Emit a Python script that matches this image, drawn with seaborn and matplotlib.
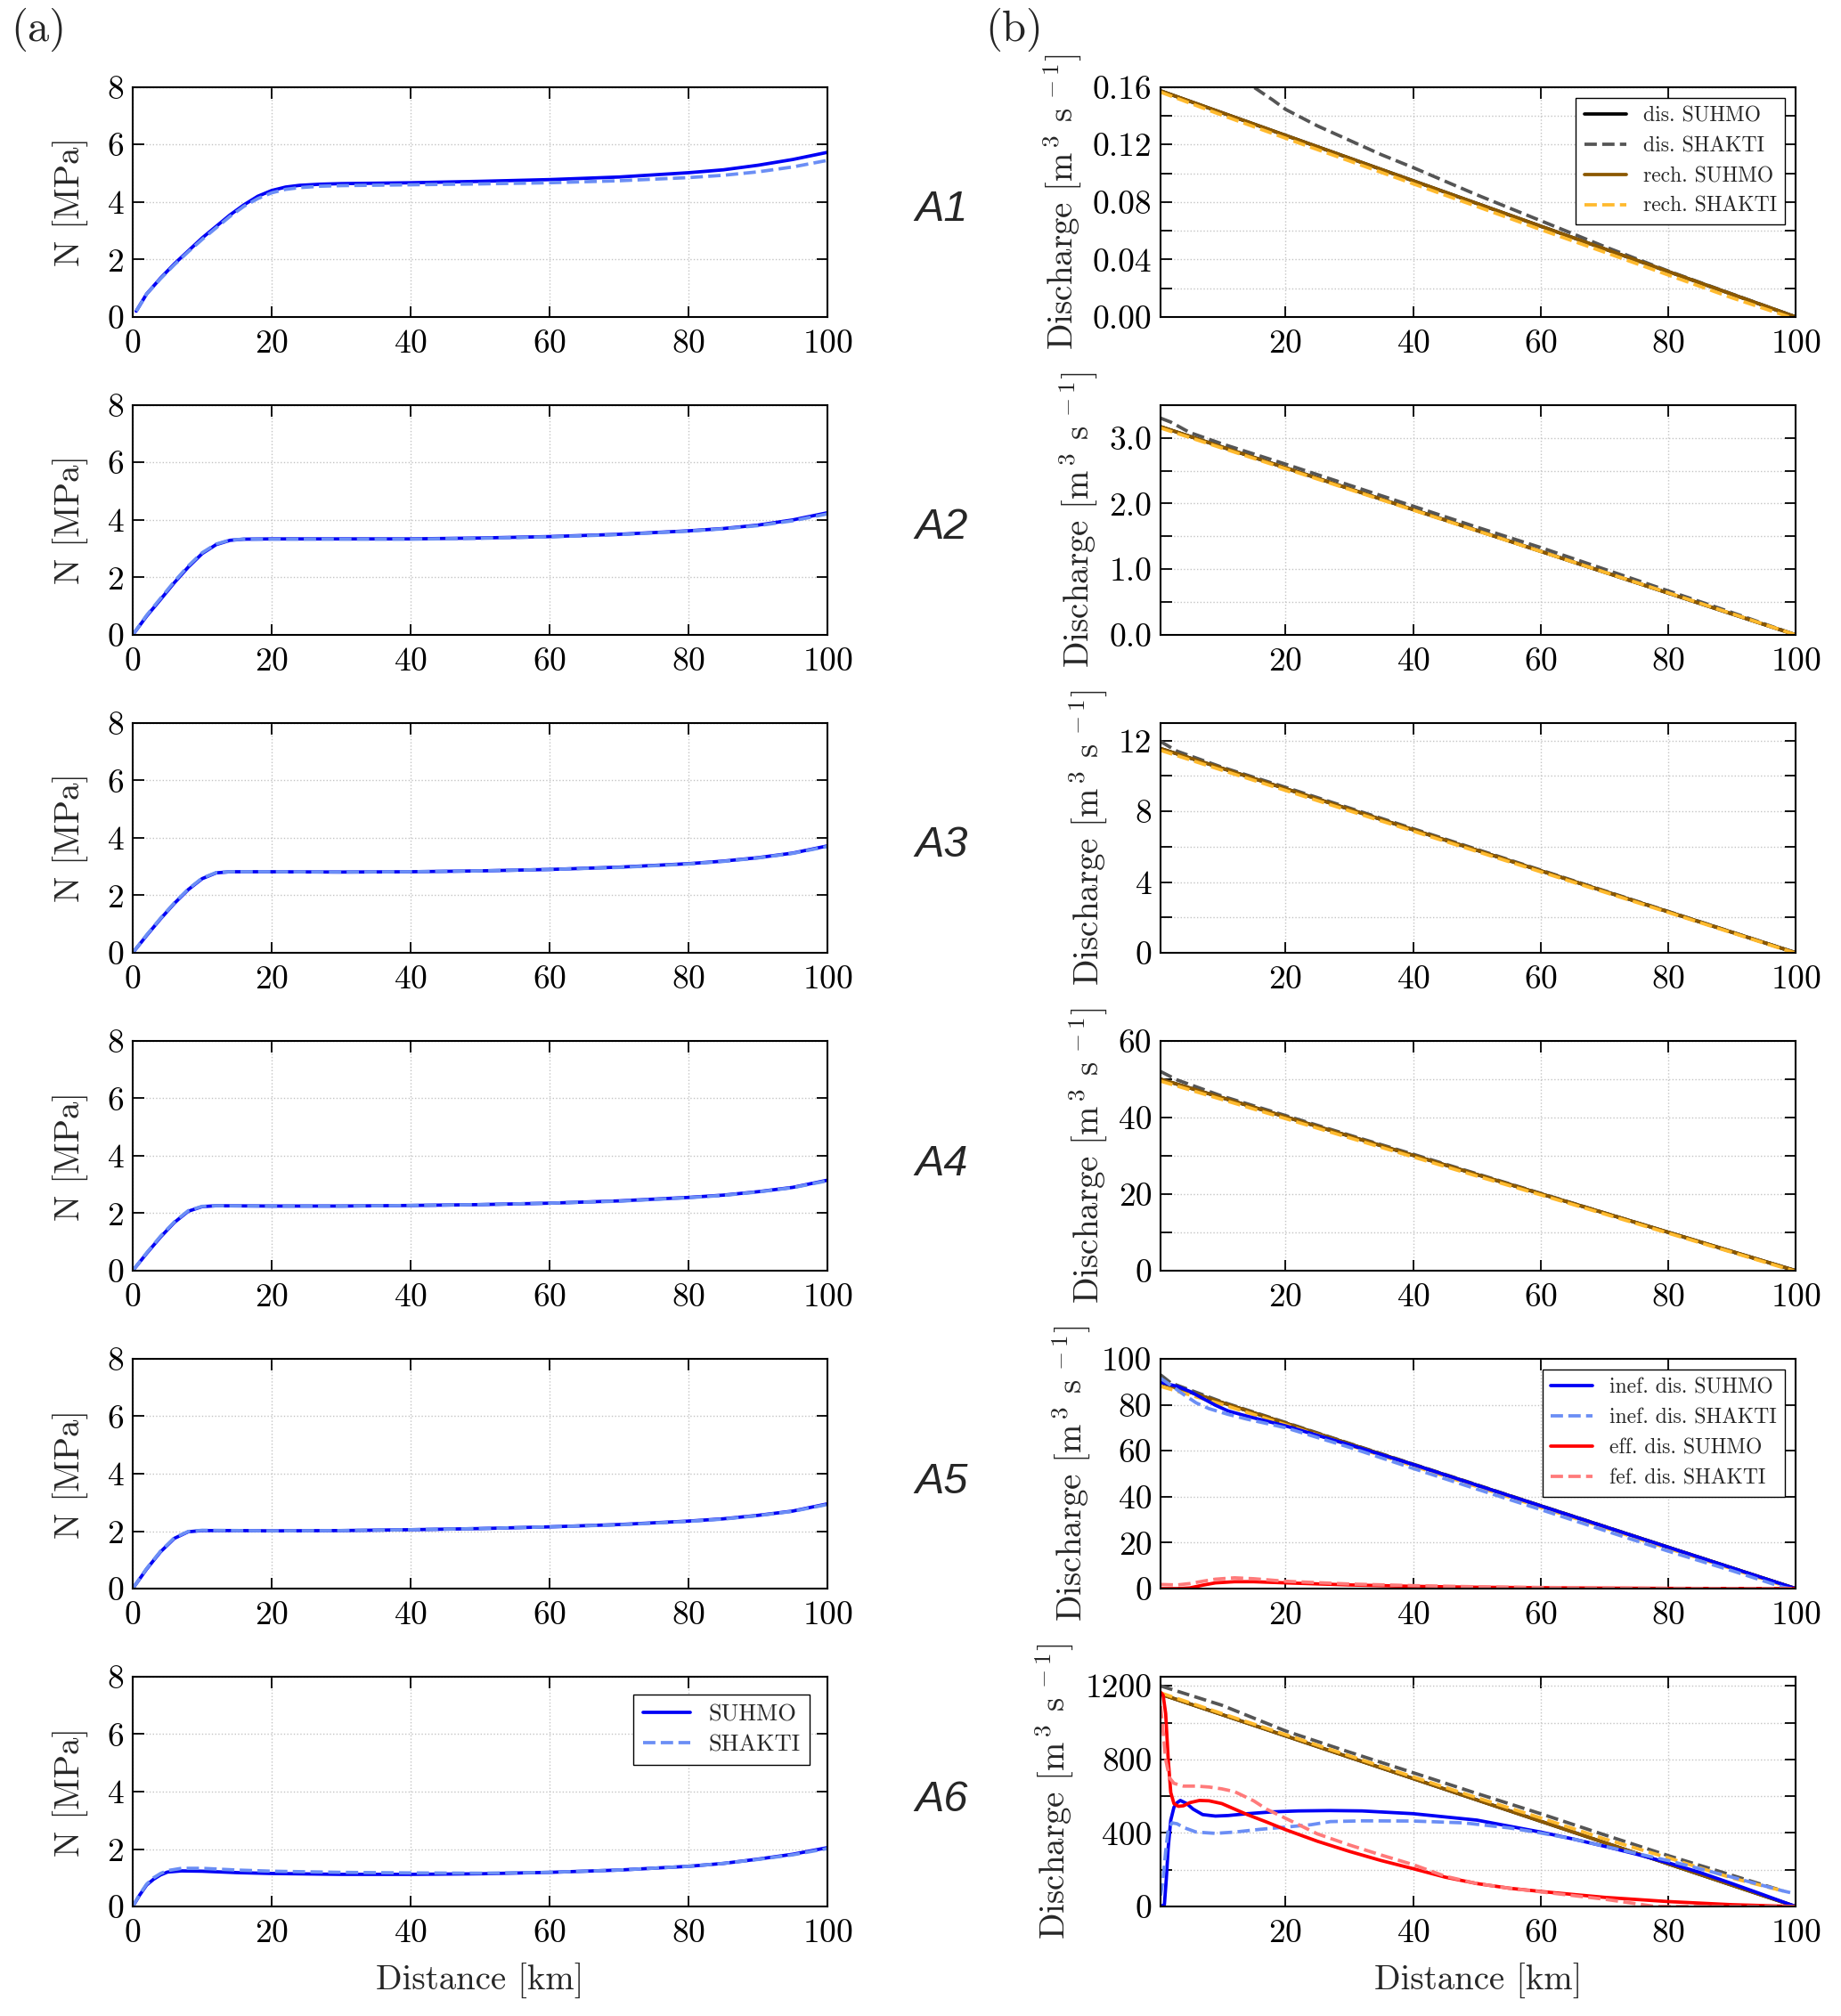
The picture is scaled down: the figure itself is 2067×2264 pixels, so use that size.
import numpy as np
import matplotlib
matplotlib.use("Agg")
import matplotlib.pyplot as plt
import seaborn as sns

# ---------------- (a) effective pressure N [MPa] ----------------
a1_x = [0.5, 2, 4, 6, 8, 10, 12, 14, 16, 18, 20, 22, 24, 27, 30, 40, 50, 60, 70, 80, 85, 90, 95, 100]
a1_suhmo = [0.2, 0.8, 1.35, 1.85, 2.3, 2.75, 3.15, 3.55, 3.9, 4.2, 4.4, 4.52, 4.58, 4.62, 4.64, 4.67, 4.72, 4.78, 4.87, 5.02, 5.12, 5.28, 5.48, 5.73]
a1_shakti = [0.2, 0.8, 1.33, 1.82, 2.27, 2.7, 3.1, 3.5, 3.85, 4.12, 4.32, 4.44, 4.5, 4.55, 4.57, 4.6, 4.63, 4.67, 4.74, 4.85, 4.93, 5.05, 5.22, 5.45]

a2_x = [0, 2, 4, 6, 8, 10, 12, 14, 16, 20, 30, 40, 50, 60, 70, 80, 85, 90, 95, 100]
a2_suhmo = [0.0, 0.65, 1.23, 1.82, 2.36, 2.83, 3.14, 3.29, 3.33, 3.34, 3.34, 3.34, 3.37, 3.42, 3.5, 3.62, 3.7, 3.82, 4.0, 4.25]
a2_shakti = [0.0, 0.68, 1.27, 1.86, 2.4, 2.86, 3.16, 3.3, 3.33, 3.33, 3.33, 3.33, 3.36, 3.41, 3.49, 3.61, 3.69, 3.8, 3.97, 4.21]

a3_x = [0, 2, 4, 6, 8, 10, 12, 14, 20, 30, 40, 50, 60, 70, 80, 85, 90, 95, 100]
a3_suhmo = [0.0, 0.6, 1.18, 1.72, 2.2, 2.58, 2.78, 2.82, 2.82, 2.81, 2.82, 2.85, 2.9, 2.98, 3.1, 3.19, 3.31, 3.47, 3.72]
a3_shakti = [0.0, 0.62, 1.2, 1.74, 2.22, 2.6, 2.79, 2.82, 2.82, 2.81, 2.82, 2.85, 2.9, 2.97, 3.09, 3.18, 3.3, 3.46, 3.7]

a4_x = [0, 2, 4, 6, 8, 10, 12, 20, 30, 40, 50, 60, 70, 80, 85, 90, 95, 100]
a4_suhmo = [0.0, 0.6, 1.17, 1.68, 2.07, 2.23, 2.26, 2.25, 2.25, 2.27, 2.3, 2.35, 2.43, 2.55, 2.63, 2.75, 2.9, 3.15]
a4_shakti = [0.0, 0.62, 1.2, 1.7, 2.09, 2.24, 2.26, 2.25, 2.25, 2.27, 2.3, 2.35, 2.42, 2.54, 2.62, 2.74, 2.89, 3.13]

a5_x = [0, 2, 4, 6, 8, 10, 15, 20, 30, 40, 50, 60, 70, 80, 85, 90, 95, 100]
a5_suhmo = [0.0, 0.68, 1.28, 1.75, 1.98, 2.02, 2.02, 2.01, 2.02, 2.05, 2.09, 2.15, 2.23, 2.35, 2.43, 2.55, 2.7, 2.95]
a5_shakti = [0.0, 0.7, 1.3, 1.77, 1.99, 2.03, 2.02, 2.01, 2.02, 2.05, 2.09, 2.15, 2.22, 2.34, 2.42, 2.54, 2.69, 2.93]

a6_x = [0, 1, 2, 3, 4, 5, 7, 10, 15, 20, 30, 40, 50, 60, 70, 80, 85, 90, 95, 100]
a6_suhmo = [0.0, 0.4, 0.75, 0.95, 1.1, 1.2, 1.24, 1.23, 1.18, 1.15, 1.12, 1.12, 1.14, 1.19, 1.27, 1.4, 1.5, 1.65, 1.82, 2.05]
a6_shakti = [0.0, 0.42, 0.78, 1.0, 1.15, 1.25, 1.33, 1.33, 1.27, 1.23, 1.19, 1.17, 1.16, 1.19, 1.27, 1.4, 1.5, 1.64, 1.8, 2.02]

# ---------------- (b) discharge [m3/s] ----------------
q_x = [0.4, 10, 20, 30, 40, 50, 60, 70, 80, 90, 100]

b1_suhmo = [0.1574, 0.1422, 0.1264, 0.1106, 0.0948, 0.0790, 0.0632, 0.0474, 0.0316, 0.0158, 0.0]
b1_rech_shakti = [0.1565, 0.1405, 0.1244, 0.1086, 0.0927, 0.0769, 0.0608, 0.0451, 0.0292, 0.0133, -0.0015]
b1_dis_shakti_x = [0.4, 5, 10, 15, 18, 20, 25, 30, 35, 40, 50, 60, 70, 80, 90, 100]
b1_dis_shakti = [0.23, 0.2, 0.178, 0.160, 0.151, 0.1445, 0.133, 0.123, 0.113, 0.104, 0.085, 0.067, 0.049, 0.032, 0.016, 0.0]

b2_suhmo = [3.17, 2.862, 2.544, 2.226, 1.908, 1.59, 1.272, 0.954, 0.636, 0.318, 0.0]
b2_rech_shakti = [3.15, 2.845, 2.53, 2.215, 1.9, 1.585, 1.27, 0.955, 0.64, 0.322, 0.0]
b2_dis_shakti_x = [0.4, 2, 5, 10, 20, 30, 40, 50, 60, 70, 80, 90, 100]
b2_dis_shakti = [3.30, 3.24, 3.08, 2.91, 2.60, 2.28, 1.96, 1.64, 1.33, 1.00, 0.67, 0.34, 0.0]

b3_suhmo = [11.55, 10.44, 9.28, 8.12, 6.96, 5.8, 4.64, 3.48, 2.32, 1.16, 0.0]
b3_rech_shakti = [11.45, 10.33, 9.18, 8.03, 6.88, 5.73, 4.58, 3.43, 2.28, 1.13, -0.03]
b3_dis_shakti_x = [0.4, 3, 10, 20, 30, 40, 50, 60, 70, 80, 90, 100]
b3_dis_shakti = [11.95, 11.4, 10.5, 9.36, 8.19, 7.02, 5.85, 4.68, 3.51, 2.34, 1.17, 0.0]

b4_suhmo = [50.0, 45.18, 40.16, 35.14, 30.12, 25.1, 20.08, 15.06, 10.04, 5.02, 0.0]
b4_rech_shakti = [49.5, 44.7, 39.7, 34.7, 29.7, 24.7, 19.8, 14.8, 9.8, 4.8, -0.2]
b4_dis_shakti_x = [0.4, 3, 10, 20, 30, 40, 50, 60, 70, 80, 90, 100]
b4_dis_shakti = [52.0, 49.8, 45.6, 40.5, 35.4, 30.4, 25.3, 20.2, 15.1, 10.0, 4.9, 0.0]

b5_suhmo = [89.64, 81.0, 72.0, 63.0, 54.0, 45.0, 36.0, 27.0, 18.0, 9.0, 0.0]
b5_rech_shakti = [88.0, 80.2, 71.3, 62.4, 53.4, 44.4, 35.4, 26.5, 17.5, 8.6, -0.4]
b5_dis_shakti_x = [0.4, 2, 10, 20, 30, 40, 50, 60, 70, 80, 90, 100]
b5_dis_shakti = [93.0, 89.5, 81.3, 72.3, 63.2, 54.2, 45.2, 36.1, 27.1, 18.0, 9.0, 0.0]
b5_inef_x = [0.4, 3, 5, 7, 9, 11, 14, 20, 30, 40, 50, 60, 70, 80, 90, 100]
b5_inef_suhmo = [89.8, 88.0, 85.8, 82.8, 79.8, 77.3, 75.0, 70.8, 62.6, 54.0, 45.0, 36.0, 27.0, 18.0, 9.0, 0.0]
b5_inef_shakti_x = [0.4, 2, 4, 6, 8, 11, 14, 20, 30, 40, 50, 60, 70, 80, 90, 98, 100]
b5_inef_shakti = [91.5, 88.5, 84.5, 80.8, 78.3, 75.8, 73.7, 70.0, 61.5, 52.3, 43.3, 34.4, 25.3, 16.3, 7.8, 0.6, -0.5]
b5_eff_x = [0.4, 3, 5, 7, 9, 12, 15, 20, 30, 40, 50, 60, 70, 80, 90, 100]
b5_eff_suhmo = [0.0, 0.0, 0.3, 1.5, 2.5, 3.0, 3.0, 2.5, 1.6, 1.0, 0.6, 0.4, 0.2, 0.1, 0.05, 0.0]
b5_eff_shakti = [1.8, 1.6, 2.2, 3.2, 4.1, 4.7, 4.3, 3.2, 2.0, 1.3, 0.8, 0.5, 0.3, 0.1, 0.0, 0.0]

b6_suhmo = [1155, 1044, 928, 812, 696, 580, 464, 348, 232, 116, 0]
b6_shakti_x = [0.4, 10, 20, 30, 40, 50, 60, 70, 80, 90, 98]
b6_rech_shakti = [1162, 1050, 935, 820, 705, 592, 482, 368, 265, 155, 85]
b6_dis_shakti = [1200, 1095, 955, 840, 728, 615, 505, 390, 277, 170, 85]
b6_inef_x = [0.4, 1.0, 1.3, 1.6, 2.0, 2.5, 3.0, 3.5, 4.5, 5.5, 7, 9, 11, 14, 18, 22, 27, 32, 40,
             50, 60, 65, 70, 75, 80, 85, 90, 95, 100]
b6_inef_suhmo = [0, 10, 150, 320, 470, 540, 565, 577, 560, 530, 500, 492, 495, 505, 515, 520, 522, 520, 505,
                 470, 405, 368, 328, 285, 238, 185, 125, 63, 0]
b6_inef_shakti_x = [0.4, 0.8, 1.2, 1.6, 2.2, 3, 4, 6, 9, 12, 16, 20, 24, 27, 32, 40, 48, 55, 60, 65, 70, 80, 90, 98, 100]
b6_inef_shakti = [60, 150, 300, 420, 455, 450, 430, 405, 398, 405, 420, 432, 445, 462, 466, 465, 455, 428, 400, 368,
                  328, 250, 160, 85, 69]
b6_eff_x = [0.4, 0.8, 1.2, 1.6, 2.0, 2.5, 3.2, 4, 5, 6.5, 8, 10, 12, 14, 17, 20, 25, 30, 35, 40, 45, 50, 55, 60,
            70, 80, 90, 100]
b6_eff_suhmo = [1165, 1150, 1050, 800, 620, 560, 545, 548, 565, 577, 575, 560, 530, 500, 460, 418, 355, 300, 250,
                206, 160, 125, 100, 82, 50, 27, 10, 0]
b6_eff_shakti_x = [0.4, 0.8, 1.2, 1.8, 2.5, 4, 6, 8, 10, 12, 15, 17, 20, 25, 30, 35, 40, 45, 50, 55, 60, 70, 78, 100]
b6_eff_shakti = [1090, 950, 800, 700, 670, 655, 655, 650, 640, 625, 575, 530, 480, 395, 335, 280, 228, 165, 125, 100,
                 80, 40, 0, 0]

row_names = ["A1", "A2", "A3", "A4", "A5", "A6"]

# colours
C_SUHMO = "#0000f5"
C_SHAKTI = "#6b8ef5"
C_EFF = "#ff0000"
C_EFF_SH = "#ff7a7a"
C_DIS = "black"
C_DIS_SH = "#555555"
C_RECH = "#8b5800"
C_RECH_SH = "#ffba2e"
LW = 2.7

sns.set_theme(style="ticks")
plt.rcParams.update({
    "font.family": ["cmr10", "DejaVu Serif"],
    "mathtext.fontset": "cm",
    "axes.formatter.use_mathtext": True,
    "axes.unicode_minus": False,
    "axes.linewidth": 1.5,
    "axes.edgecolor": "black",
})

fig = plt.figure(figsize=(20.67, 22.64), dpi=100)

row_bottoms = [0.8428, 0.6851, 0.5274, 0.3697, 0.2120, 0.0543]
ax_h = 0.114


def style_axes(ax):
    ax.tick_params(direction="in", length=9, width=1.3, top=True, right=True,
                   labelsize=27, pad=7, colors="black")
    ax.tick_params(axis="x", pad=10)
    ax.grid(True, linestyle=":", color="#c4c4c4", linewidth=1.0)
    for s in ax.spines.values():
        s.set_linewidth(1.5)
        s.set_color("black")


def line(ax, x, y, color, ls="-", label=None):
    sns.lineplot(x=x, y=y, ax=ax, color=color, linewidth=LW, linestyle=ls,
                 label=label, estimator=None, sort=False)


left_data = [(a1_x, a1_suhmo, a1_shakti), (a2_x, a2_suhmo, a2_shakti), (a3_x, a3_suhmo, a3_shakti),
             (a4_x, a4_suhmo, a4_shakti), (a5_x, a5_suhmo, a5_shakti), (a6_x, a6_suhmo, a6_shakti)]

right_main = [(b1_suhmo, b1_rech_shakti, b1_dis_shakti_x, b1_dis_shakti),
              (b2_suhmo, b2_rech_shakti, b2_dis_shakti_x, b2_dis_shakti),
              (b3_suhmo, b3_rech_shakti, b3_dis_shakti_x, b3_dis_shakti),
              (b4_suhmo, b4_rech_shakti, b4_dis_shakti_x, b4_dis_shakti),
              (b5_suhmo, b5_rech_shakti, b5_dis_shakti_x, b5_dis_shakti)]

right_ytop = [0.16, 3.5, 13, 60, 100, 1250]
right_step = [0.02, 0.5, 2, 10, 20, 200]
right_lastick = [0.16, 3.0, 12, 60, 100, 1200]
right_every = [2, 2, 2, 2, 1, 2]
right_fmt = ["{:.2f}", "{:.1f}", "{:.0f}", "{:.0f}", "{:.0f}", "{:.0f}"]

leg_kw = dict(loc="upper right", frameon=True, fancybox=False, edgecolor="black",
              framealpha=1, handlelength=2.0, borderpad=0.4)

for i in range(6):
    b = row_bottoms[i]
    last = i == 5

    # ---- left column: N ----
    axl = fig.add_axes([0.0721, b, 0.3774, ax_h])
    x, ys, yk = left_data[i]
    line(axl, x, ys, C_SUHMO, "-", "SUHMO" if last else None)
    line(axl, x, yk, C_SHAKTI, "--", "SHAKTI" if last else None)
    axl.set_xlim(0, 100)
    axl.set_ylim(0, 8)
    axl.set_xticks([0, 20, 40, 60, 80, 100])
    axl.set_yticks([0, 2, 4, 6, 8])
    style_axes(axl)
    axl.set_ylabel("N [MPa]", fontsize=28, labelpad=14)
    axl.set_xlabel("Distance [km]" if last else "", fontsize=28, labelpad=12)
    if last:
        axl.legend(fontsize=19, borderaxespad=0.75, labelspacing=0.4, **leg_kw)
    elif axl.get_legend() is not None:
        axl.get_legend().remove()

    # ---- right column: discharge ----
    axr = fig.add_axes([0.6304, b, 0.345, ax_h])
    if i < 5:
        suhmo, rech_sh, dis_x, dis_sh = right_main[i]
        lab = i == 0
        line(axr, q_x, suhmo, C_DIS, "-", "dis. SUHMO" if lab else None)
        line(axr, dis_x, dis_sh, C_DIS_SH, "--", "dis. SHAKTI" if lab else None)
        line(axr, q_x, suhmo, C_RECH, "-", "rech. SUHMO" if lab else None)
        line(axr, q_x, rech_sh, C_RECH_SH, "--", "rech. SHAKTI" if lab else None)
    else:
        line(axr, q_x, b6_suhmo, C_DIS)
        line(axr, b6_shakti_x, b6_dis_shakti, C_DIS_SH, "--")
        line(axr, q_x, b6_suhmo, C_RECH)
        line(axr, b6_shakti_x, b6_rech_shakti, C_RECH_SH, "--")
    if i == 4:
        line(axr, b5_inef_x, b5_inef_suhmo, C_SUHMO, "-", "inef. dis. SUHMO")
        line(axr, b5_inef_shakti_x, b5_inef_shakti, C_SHAKTI, "--", "inef. dis. SHAKTI")
        line(axr, b5_eff_x, b5_eff_suhmo, C_EFF, "-", "eff. dis. SUHMO")
        line(axr, b5_eff_x, b5_eff_shakti, C_EFF_SH, "--", "fef. dis. SHAKTI")
    if last:
        line(axr, b6_inef_x, b6_inef_suhmo, C_SUHMO)
        line(axr, b6_inef_shakti_x, b6_inef_shakti, C_SHAKTI, "--")
        line(axr, b6_eff_x, b6_eff_suhmo, C_EFF)
        line(axr, b6_eff_shakti_x, b6_eff_shakti, C_EFF_SH, "--")

    axr.set_xlim(0.4, 100)
    axr.set_ylim(0, right_ytop[i])
    axr.set_xticks([20, 40, 60, 80, 100])
    yt = np.arange(0, right_lastick[i] + right_step[i] * 0.01, right_step[i])
    axr.set_yticks(yt)
    axr.set_yticklabels([right_fmt[i].format(v) if k % right_every[i] == 0 else ""
                         for k, v in enumerate(yt)])
    style_axes(axr)
    axr.set_ylabel(r"Discharge [m$^{\,3}$ s$^{\,-1}$]", fontsize=28, labelpad=8)
    axr.set_xlabel("Distance [km]" if last else "", fontsize=28, labelpad=12)
    if i in (0, 4):
        axr.legend(fontsize=17, borderaxespad=0.5, labelspacing=0.5, **leg_kw)
    elif axr.get_legend() is not None:
        axr.get_legend().remove()

    fig.text(0.5115, b + ax_h / 2 - 0.004, row_names[i], fontsize=35, style="italic",
             family="Liberation Sans", ha="center", va="center")

fig.text(0.006, 0.996, "(a)", fontsize=35, ha="left", va="top")
fig.text(0.535, 0.996, "(b)", fontsize=35, ha="left", va="top")

fig.savefig("out.png", dpi=100)
